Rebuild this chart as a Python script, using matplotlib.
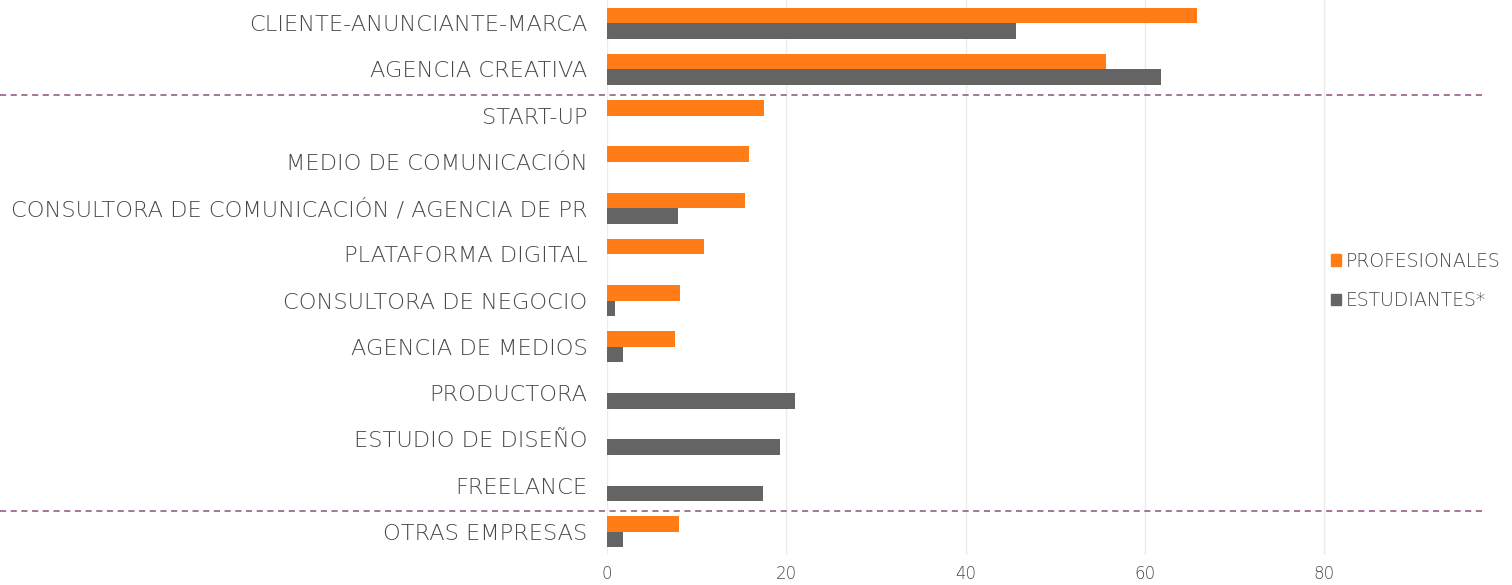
import matplotlib
matplotlib.use('Agg')
import matplotlib.pyplot as plt
from matplotlib.patches import Patch
import numpy as np

categorias = ['CLIENTE-ANUNCIANTE-MARCA', 'AGENCIA CREATIVA', 'START-UP',
              'MEDIO DE COMUNICACIÓN', 'CONSULTORA DE COMUNICACIÓN / AGENCIA DE PR',
              'PLATAFORMA DIGITAL', 'CONSULTORA DE NEGOCIO', 'AGENCIA DE MEDIOS',
              'PRODUCTORA', 'ESTUDIO DE DISEÑO', 'FREELANCE', 'OTRAS EMPRESAS']
profesionales = [65.8, 55.7, 17.5, 15.8, 15.4, 10.8, 8.1, 7.6, 0, 0, 0, 8.0]
estudiantes = [45.6, 61.8, 0, 0, 7.9, 0, 0.9, 1.8, 21.0, 19.3, 17.4, 1.8]
ticks_x = [0, 20, 40, 60, 80]

naranja = '#FF7C16'
gris = '#646464'
texto = '#484848'

plt.rcParams['font.family'] = ['DejaVu Sans']

fig = plt.figure(figsize=(15.12, 5.85), dpi=100)
ax = fig.add_axes([607/1512, 1 - 555/585, (1482 - 607)/1512, 555/585])

y = np.arange(len(categorias))
alto = 0.335
ax.barh(y - alto/2, profesionales, height=alto, color=naranja, label='PROFESIONALES')
ax.barh(y + alto/2, estudiantes, height=alto, color=gris, label='ESTUDIANTES*')

ax.set_ylim(len(categorias) - 0.5, -0.5)
ax.set_xlim(0, 97.6)
ax.set_yticks(y)
ax.set_yticklabels(categorias, fontsize=16.2, color=texto, fontweight='light')
ax.set_xticks(ticks_x)
ax.set_xticklabels([str(t) for t in ticks_x], fontsize=12, color=texto, fontweight='light')
ax.tick_params(axis='both', length=0)
ax.tick_params(axis='y', pad=14)
ax.tick_params(axis='x', pad=7)
for s in ax.spines.values():
    s.set_visible(False)
ax.set_axisbelow(True)
ax.grid(axis='x', color='#EBEBEB', linewidth=1)

# separadores de grupos
for yy in [1.55, 10.55]:
    ax.axhline(yy, xmin=-607/875, xmax=1.0, color='#8B4F7A', linestyle=(0, (4, 3)),
               linewidth=1.1, clip_on=False)

handles = [Patch(color=naranja), Patch(color=gris)]
fig.legend(handles, ['PROFESIONALES', 'ESTUDIANTES*'], loc='center left',
           bbox_to_anchor=(1314/1512, 1 - 281/585), frameon=False,
           prop={'size': 13.6, 'weight': 'light'},
           handlelength=0.55, handleheight=0.55, handletextpad=0.25, labelspacing=1.1,
           labelcolor=texto)

fig.savefig('out.png', dpi=100)
